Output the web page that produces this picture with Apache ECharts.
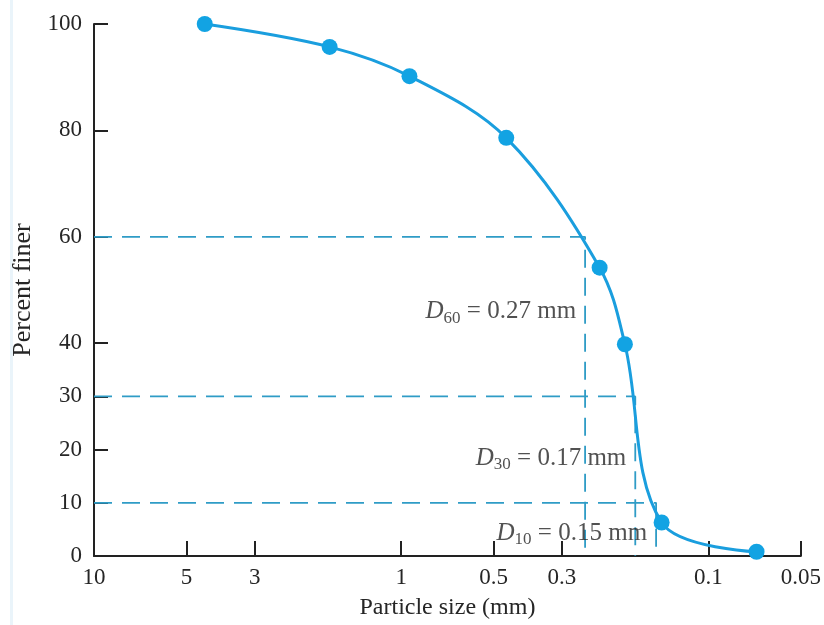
<!DOCTYPE html>
<html>
<head>
<meta charset="utf-8">
<script src="https://cdn.jsdelivr.net/npm/echarts@6/dist/echarts.min.js"></script>
<style>
  html, body { margin: 0; padding: 0; background: #fff; }
  #chart { width: 824px; height: 625px; }
</style>
</head>
<body>
<div id="chart"></div>
<script>
// sieve data: particle size (mm) vs percent finer
var sizes = [4.36, 1.71, 0.94, 0.455, 0.226, 0.187, 0.142, 0.0697];
var finer = [100, 95.7, 90.2, 78.6, 54.2, 39.8, 6.3, 0.8];

// D-values as drawn (percent, size)
var dPercents = [60, 30, 10];
var dSizes = [0.252, 0.173, 0.148];
var dTexts = ['0.27', '0.17', '0.15'];
var dLabelY = [45.9, 18.4, 4.3];

var xTicks = [10, 5, 3, 1, 0.5, 0.3, 0.1, 0.05];
var xTickLabels = ['10', '5', '3', '1', '0.5', '0.3', '0.1', '0.05'];
var yTicks = [0, 10, 20, 30, 40, 60, 80, 100];

var serif = '"Liberation Serif", "DejaVu Serif", serif';
var textColor = '#262626';
var blue = '#12a3e3';
var dashBlue = '#2f9cc6';

function xLabel(v) {
    for (var i = 0; i < xTicks.length; i++) {
        if (Math.abs(v - xTicks[i]) / xTicks[i] < 1e-6) return xTickLabels[i];
    }
    return '';
}

var chart = echarts.init(document.getElementById('chart'));

var series = [];
// guide lines
for (var i = 0; i < dPercents.length; i++) {
    series.push({
        type: 'line',
        silent: true,
        symbol: 'none',
        lineStyle: { color: dashBlue, width: 1.8, type: [18, 10] },
        data: [[10, dPercents[i]], [dSizes[i], dPercents[i]], [dSizes[i], 0]],
        z: 1
    });
}
// labels
var labelData = [];
for (var i = 0; i < dPercents.length; i++) {
    labelData.push({
        value: [dSizes[i], dLabelY[i]],
        label: {
            formatter: '{d|D}{s|' + dPercents[i] + '}{t| = ' + dTexts[i] + ' mm}'
        }
    });
}
series.push({
    type: 'scatter',
    symbolSize: 0,
    silent: true,
    label: {
        show: true,
        position: 'left',
        distance: 9,
        rich: {
            d: { fontFamily: serif, fontStyle: 'italic', fontSize: 25, color: textColor, lineHeight: 30 },
            s: { fontFamily: serif, fontSize: 17, color: textColor, lineHeight: 17, verticalAlign: 'bottom' },
            t: { fontFamily: serif, fontSize: 25, color: textColor, lineHeight: 30 }
        }
    },
    data: labelData,
    z: 3
});
// gradation curve
var curve = [];
for (var i = 0; i < sizes.length; i++) curve.push([sizes[i], finer[i]]);
series.push({
    type: 'line',
    smooth: 0.35,
    symbol: 'circle',
    symbolSize: 16,
    itemStyle: { color: blue },
    lineStyle: { color: '#1a9ede', width: 3 },
    data: curve,
    z: 4
});

var option = {
    animation: false,
    backgroundColor: '#fff',
    grid: { left: 94, right: 21, top: 24, bottom: 69 },
    xAxis: {
        type: 'log',
        logBase: 10,
        min: 0.05,
        max: 10,
        inverse: true,
        name: 'Particle size (mm)',
        nameLocation: 'middle',
        nameGap: 40,
        nameTextStyle: { fontFamily: serif, fontSize: 24, color: textColor },
        axisLine: { lineStyle: { color: '#222', width: 2 } },
        axisTick: { inside: true, length: 15, customValues: xTicks, lineStyle: { color: '#222', width: 2 } },
        axisLabel: { customValues: xTicks, formatter: xLabel, margin: 10, fontFamily: serif, fontSize: 23, color: textColor },
        splitLine: { show: false },
        minorTick: { show: false }
    },
    yAxis: {
        type: 'value',
        min: 0,
        max: 100,
        name: 'Percent finer',
        nameLocation: 'middle',
        nameGap: 57,
        nameTextStyle: { fontFamily: serif, fontSize: 26, color: textColor },
        axisLine: { show: true, lineStyle: { color: '#222', width: 2 } },
        axisTick: { show: true, inside: true, length: 14, customValues: yTicks, lineStyle: { color: '#222', width: 2 } },
        axisLabel: { customValues: yTicks, margin: 12, fontFamily: serif, fontSize: 23, color: textColor },
        splitLine: { show: false }
    },
    graphic: [{
        type: 'rect',
        shape: { x: 10, y: 0, width: 3, height: 625 },
        style: { fill: '#eaf4fa' },
        silent: true
    }],
    series: series
};

chart.setOption(option);
</script>
</body>
</html>
